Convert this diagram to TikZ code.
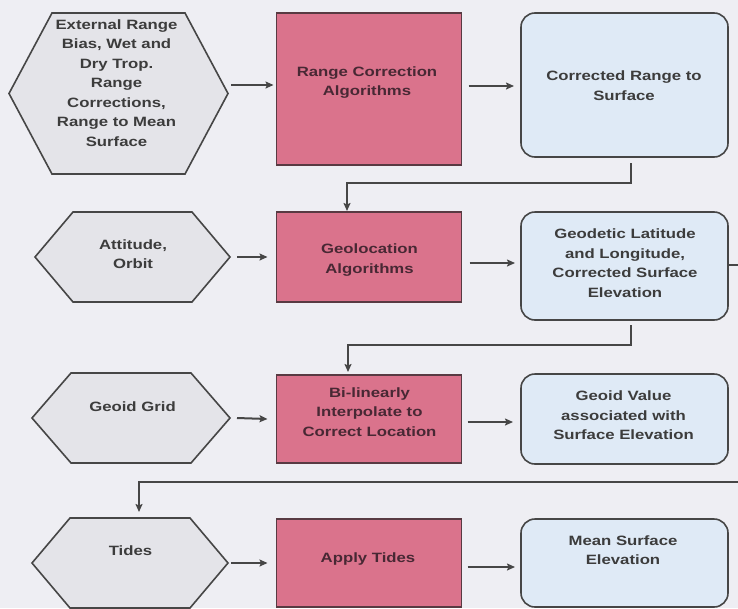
\documentclass[tikz,border=0pt]{standalone}
\usepackage{fontspec}
\newfontfamily\diagfont[FakeStretch=1.24]{Liberation Sans}
\usetikzlibrary{arrows.meta}
\pgfdeclarelayer{under}
\pgfsetlayers{under,main}

\definecolor{pagebg}{RGB}{238,238,243}
\definecolor{hexfill}{RGB}{228,228,233}
\definecolor{procfill}{RGB}{218,115,140}
\definecolor{outfill}{RGB}{223,234,246}
\definecolor{edgegray}{RGB}{70,70,70}
\definecolor{procedge}{RGB}{88,58,66}
\definecolor{ink}{RGB}{60,60,60}
\definecolor{procink}{RGB}{72,40,52}

% outline of a flat-topped hexagon around an invisible frame node
\newcommand\hexoutline[2]{%
  \begin{pgfonlayer}{under}
    \draw[hexline] (#1.west) -- ([xshift=#2]#1.north west) -- ([xshift=-#2]#1.north east)
      -- (#1.east) -- ([xshift=-#2]#1.south east) -- ([xshift=#2]#1.south west) -- cycle;
  \end{pgfonlayer}}

\begin{document}
\begin{tikzpicture}[x=1pt,y=-1pt,
  lbl/.style={font=\diagfont\bfseries\fontsize{13.5pt}{19.5pt}\selectfont,
    text=ink, align=center, inner sep=0pt},
  plbl/.style={lbl, text=procink},
  hexframe/.style={inner sep=0pt, outer sep=0pt},
  hexline/.style={draw=edgegray, line width=1.6pt, fill=hexfill, line join=miter},
  procbox/.style={draw=procedge, line width=1.8pt, fill=procfill, inner sep=0pt,
    outer sep=0pt, minimum width=185pt},
  outbox/.style={draw=edgegray, line width=1.6pt, fill=outfill, rounded corners=14pt,
    inner sep=0pt, outer sep=0pt, minimum width=207pt},
  conn/.style={draw=edgegray, line width=2pt,
    -{Stealth[length=8pt,width=7pt,inset=1.5pt]}},
  flow/.style={draw=edgegray, line width=2pt}]

\useasboundingbox (0,0) rectangle (738,608);
\begin{pgfonlayer}{under}
  \fill[pagebg] (0,0) rectangle (738,608);
\end{pgfonlayer}

% inputs (hexagons)
\node[hexframe, minimum width=219pt, minimum height=161pt] (hex1) at (118.5,93.5) {};
\node[hexframe, minimum width=195pt, minimum height=90pt] (hex2) at (132.5,257) {};
\node[hexframe, minimum width=198pt, minimum height=90pt] (hex3) at (131,418) {};
\node[hexframe, minimum width=196pt, minimum height=90pt] (hex4) at (130,563) {};
\hexoutline{hex1}{43pt}
\hexoutline{hex2}{38pt}
\hexoutline{hex3}{39pt}
\hexoutline{hex4}{38pt}

% processing steps
\node[procbox, minimum height=152pt] (proc1) at (369,89) {};
\node[procbox, minimum height=90pt] (proc2) at (369,257) {};
\node[procbox, minimum height=88pt] (proc3) at (369,419) {};
\node[procbox, minimum height=88pt] (proc4) at (369,563) {};

% products
\node[outbox, minimum height=144pt] (out1) at (624.5,85) {};
\node[outbox, minimum height=108pt] (out2) at (624.5,266) {};
\node[outbox, minimum height=90pt] (out3) at (624.5,419) {};
\node[outbox, minimum height=88pt] (out4) at (624.5,563) {};

% labels
\node[lbl] (t-hex1) at (116.5,83) {External Range\\Bias, Wet and\\Dry Trop.\\Range\\Corrections,\\Range to Mean\\Surface};
\node[lbl] (t-hex2) at (133,254) {Attitude,\\Orbit};
\node[lbl] (t-hex3) at (132.5,406.5) {Geoid Grid};
\node[lbl] (t-hex4) at (130.5,551) {Tides};

\node[plbl] (t-proc1) at (367,82.5) {Range Correction\\Algorithms};
\node[plbl] (t-proc2) at (369.5,260) {Geolocation\\Algorithms};
\node[plbl] (t-proc3) at (369.5,412) {Bi-linearly\\Interpolate to\\Correct Location};
\node[plbl] (t-proc4) at (368,558.5) {Apply Tides};

\node[lbl] (t-out1) at (624,85.5) {Corrected Range to\\Surface};
\node[lbl] (t-out2) at (625,263) {Geodetic Latitude\\and Longitude,\\Corrected Surface\\Elevation};
\node[lbl] (t-out3) at (623.5,415.5) {Geoid Value\\associated with\\Surface Elevation};
\node[lbl] (t-out4) at (623,550) {Mean Surface\\Elevation};

% row connectors
\draw[conn] ([xshift=3pt,yshift=4pt]proc1.west -| hex1.east) -- ([xshift=-3pt,yshift=4pt]proc1.west);
\draw[conn] ([xshift=7pt,yshift=3pt]proc1.east) -- ([xshift=-7pt,yshift=3pt]proc1.east -| out1.west);
\draw[conn] ([xshift=7pt]hex2.east) -- ([xshift=-9pt]proc2.west);
\draw[conn] ([xshift=8pt,yshift=-6pt]proc2.east) -- ([xshift=-6pt,yshift=-6pt]proc2.east -| out2.west);
\draw[conn] ([xshift=7pt]hex3.east) -- ([xshift=-9pt]proc3.west);
\draw[conn] ([xshift=6pt,yshift=-3pt]proc3.east) -- ([xshift=-8pt,yshift=-3pt]proc3.east -| out3.west);
\draw[conn] ([xshift=3pt]hex4.east) -- ([xshift=-9pt]proc4.west);
\draw[conn] ([xshift=6pt,yshift=-4pt]proc4.east) -- ([xshift=-6pt,yshift=-4pt]proc4.east -| out4.west);

% feeds between rows
\draw[conn] ([xshift=6.5pt,yshift=-6pt]out1.south) -- ++(0,20) -| ([xshift=-22pt,yshift=1pt]proc2.north);
\draw[conn] ([xshift=6.5pt,yshift=-5pt]out2.south) -- ++(0,20) -| ([xshift=-21pt,yshift=3pt]proc3.north);
\coordinate (turn) at (760,482);
\draw[conn] ([yshift=1pt]out2.east) -| (turn) -| ([xshift=9pt,yshift=6pt]hex4.north);

\end{tikzpicture}
\end{document}
